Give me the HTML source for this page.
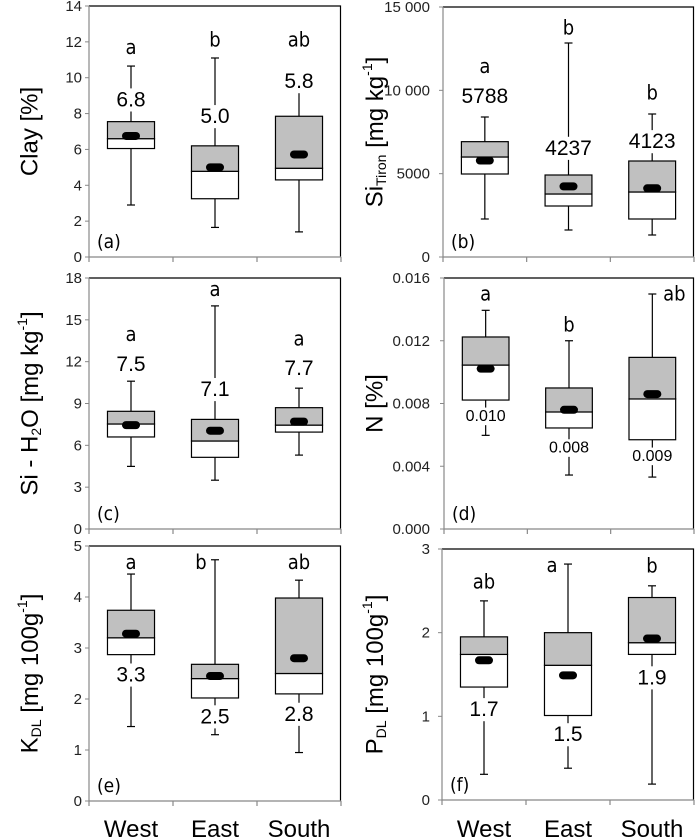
<!DOCTYPE html>
<html><head><meta charset="utf-8"><style>
html,body{margin:0;padding:0;background:#fff;}
svg{display:block;font-family:"Liberation Sans",sans-serif;}
</style></head><body>
<svg id="fig" width="695" height="839" viewBox="0 0 695 839" xmlns="http://www.w3.org/2000/svg"></svg>
<script>
const categories = ["West","East","South"];
// panel a: Clay
const aLo=[2.9,1.65,1.4], aQ1=[6.05,3.25,4.3], aMed=[6.6,4.78,4.95], aQ3=[7.55,6.2,7.85], aHi=[10.65,11.1,9.5], aMean=[6.75,5.0,5.72];
const aLetters=["a","b","ab"], aLetterPos=[11.7,12.14,12.14], aValues=["6.8","5.0","5.8"], aValuePos=[8.76,7.83,9.78];
// panel b: Si Tiron
const bLo=[2280,1620,1320], bQ1=[4980,3060,2280], bMed=[6000,3780,3900], bQ3=[6920,4920,5760], bHi=[8400,12840,8580], bMean=[5788,4237,4123];
const bLetters=["a","b","b"], bLetterPos=[11460,13780,9880], bValues=["5788","4237","4123"], bValuePos=[9620,6520,6920];
// panel c: Si-H2O
const cLo=[4.49,3.5,5.3], cQ1=[6.6,5.14,6.95], cMed=[7.53,6.31,7.45], cQ3=[8.44,7.86,8.7], cHi=[10.6,16.0,10.1], cMean=[7.45,7.05,7.7];
const cLetters=["a","a","a"], cLetterPos=[14.0,17.2,13.65], cValues=["7.5","7.1","7.7"], cValuePos=[11.8,10.0,11.5];
// panel d: N
const dLo=[0.00597,0.00344,0.00331], dQ1=[0.00822,0.00644,0.00569], dMed=[0.01045,0.00746,0.00829], dQ3=[0.01224,0.00899,0.01094], dHi=[0.01394,0.012,0.01498], dMean=[0.01022,0.0076,0.0086];
const dLetters=["a","b","ab"], dLetterPos=[0.015,0.01302,0.015], dValues=["0.010","0.008","0.009"], dValuePos=[0.00718,0.00516,0.00463];
// panel e: K DL
const eLo=[1.46,1.3,0.95], eQ1=[2.87,2.02,2.1], eMed=[3.2,2.4,2.5], eQ3=[3.74,2.68,3.98], eHi=[4.45,4.73,4.33], eMean=[3.28,2.45,2.8];
const eLetters=["a","b","ab"], eLetterPos=[4.69,4.69,4.69], eValues=["3.3","2.5","2.8"], eValuePos=[2.47,1.65,1.7];
// panel f: P DL
const fLo=[0.307,0.38,0.19], fQ1=[1.35,1.01,1.74], fMed=[1.74,1.61,1.88], fQ3=[1.95,2.0,2.42], fHi=[2.38,2.82,2.56], fMean=[1.67,1.49,1.93];
const fLetters=["ab","a","b"], fLetterPos=[2.61,2.81,2.8], fValues=["1.7","1.5","1.9"], fValuePos=[1.08,0.78,1.46];
const aTicks=["0","2","4","6","8","10","12","14"];
const bTicks=["0","5000","10 000","15 000"];
const cTicks=["0","3","6","9","12","15","18"];
const dTicks=["0.000","0.004","0.008","0.012","0.016"];
const eTicks=["0","1","2","3","4","5"];
const fTicks=["0","1","2","3"];

const NS="http://www.w3.org/2000/svg";
const svg=document.getElementById('fig');
function mk(tag,attrs,parent){const e=document.createElementNS(NS,tag);for(const k in attrs)e.setAttribute(k,attrs[k]);(parent||svg).appendChild(e);return e;}

const panels=[
 {id:"a",x0:89,x1:341,yTop:6,yBot:257,max:14,tickVals:[0,2,4,6,8,10,12,14],ticks:aTicks,lo:aLo,q1:aQ1,med:aMed,q3:aQ3,hi:aHi,mean:aMean,letters:aLetters,lp:aLetterPos,values:aValues,vp:aValuePos,title:"Clay [%]",tx:30,ldx:[0,0,0],vfs:21,tickRight:82},
 {id:"b",x0:443,x1:694,yTop:7,yBot:257,max:15000,tickVals:[0,5000,10000,15000],ticks:bTicks,lo:bLo,q1:bQ1,med:bMed,q3:bQ3,hi:bHi,mean:bMean,letters:bLetters,lp:bLetterPos,values:bValues,vp:bValuePos,title:"Si<tspan font-size='14' dy='6'>Tiron</tspan><tspan dy='-6'> [mg kg</tspan><tspan font-size='14' dy='-8'>-1</tspan><tspan dy='8'>]</tspan>",tx:375,ldx:[0,0,0],vfs:21,tickRight:430},
 {id:"c",x0:89,x1:341,yTop:278,yBot:529,max:18,tickVals:[0,3,6,9,12,15,18],ticks:cTicks,lo:cLo,q1:cQ1,med:cMed,q3:cQ3,hi:cHi,mean:cMean,letters:cLetters,lp:cLetterPos,values:cValues,vp:cValuePos,title:"Si - H<tspan font-size='14' dy='6'>2</tspan><tspan dy='-6'>O [mg kg</tspan><tspan font-size='14' dy='-8'>-1</tspan><tspan dy='8'>]</tspan>",tx:30,ldx:[0,0,0],vfs:21,tickRight:82},
 {id:"d",x0:444,x1:694,yTop:278,yBot:529,max:0.016,tickVals:[0,0.004,0.008,0.012,0.016],ticks:dTicks,lo:dLo,q1:dQ1,med:dMed,q3:dQ3,hi:dHi,mean:dMean,letters:dLetters,lp:dLetterPos,values:dValues,vp:dValuePos,title:"N [%]",tx:375,ldx:[0,0,22],vfs:16,tickRight:430},
 {id:"e",x0:89,x1:341,yTop:546,yBot:801,max:5,tickVals:[0,1,2,3,4,5],ticks:eTicks,lo:eLo,q1:eQ1,med:eMed,q3:eQ3,hi:eHi,mean:eMean,letters:eLetters,lp:eLetterPos,values:eValues,vp:eValuePos,title:"K<tspan font-size='14' dy='6'>DL</tspan><tspan dy='-6'> [mg 100g</tspan><tspan font-size='14' dy='-8'>-1</tspan><tspan dy='8'>]</tspan>",tx:30,ldx:[0,-14,0],vfs:21,tickRight:82},
 {id:"f",x0:442,x1:694,yTop:549,yBot:800,max:3,tickVals:[0,1,2,3],ticks:fTicks,lo:fLo,q1:fQ1,med:fMed,q3:fQ3,hi:fHi,mean:fMean,letters:fLetters,lp:fLetterPos,values:fValues,vp:fValuePos,title:"P<tspan font-size='14' dy='6'>DL</tspan><tspan dy='-6'> [mg 100g</tspan><tspan font-size='14' dy='-8'>-1</tspan><tspan dy='8'>]</tspan>",tx:375,ldx:[0,-16,0],vfs:21,tickRight:430}
];

panels.forEach(p=>{
  const g=mk('g',{});
  
  
  const y=v=>p.yBot-(v/p.max)*(p.yBot-p.yTop);
  const bw=(p.x1-p.x0)/categories.length;
  const xc=i=>p.x0+bw*(i+0.5);
  const fr=mk('path',{d:`M${p.x0} ${p.yTop}H${p.x1-0.5}V${p.yBot}`,fill:'none',stroke:'#000','stroke-width':1.2},g);
  
  
  const ax=mk('path',{d:`M${p.x0} ${p.yTop}V${p.yBot}H${p.x1}`,fill:'none',stroke:'#888','stroke-width':1.2},g);
  
  
  for(let i=0;i<=categories.length;i++){
    const tx=p.x0+bw*i;
    mk('line',{x1:tx,x2:tx,y1:p.yBot,y2:p.yBot+5,stroke:'#888','stroke-width':1.2},g);
  }
  p.tickVals.forEach((v,i)=>{
    const yy=y(v);
    mk('line',{x1:p.x0-4,x2:p.x0,y1:yy,y2:yy,stroke:'#888','stroke-width':1},g);
    const t=mk('text',{x:p.tickRight,y:yy+5,'text-anchor':'end','font-size':15,fill:'#222'},g);
    t.textContent=p.ticks[i];
    
    
  });
  const cy=(p.yTop+p.yBot)/2;
  const tt=mk('text',{x:p.tx,y:cy,'text-anchor':'middle','font-size':24,'dominant-baseline':'central',transform:`rotate(-90 ${p.tx} ${cy})`,fill:'#000'},g);
  tt.innerHTML=p.title;
  
  
  const pl=mk('text',{x:p.x0+8,y:p.yBot-9,'font-size':19,fill:'#000','font-family':'"DejaVu Sans Condensed","Liberation Sans",sans-serif'},g);
  pl.textContent='('+p.id+')';
  
  
  categories.forEach((c,i)=>{
    const x=xc(i), w=bw*0.56;
    const bx=mk('g',{},g);
    
    
    mk('line',{x1:x,x2:x,y1:y(p.lo[i]),y2:y(p.q1[i]),stroke:'#000','stroke-width':1.2},bx);
    mk('line',{x1:x,x2:x,y1:y(p.q3[i]),y2:y(p.hi[i]),stroke:'#000','stroke-width':1.2},bx);
    mk('line',{x1:x-4,x2:x+4,y1:y(p.lo[i]),y2:y(p.lo[i]),stroke:'#000','stroke-width':1.2},bx);
    mk('line',{x1:x-4,x2:x+4,y1:y(p.hi[i]),y2:y(p.hi[i]),stroke:'#000','stroke-width':1.2},bx);
    mk('rect',{x:x-w/2,y:y(p.med[i]),width:w,height:y(p.q1[i])-y(p.med[i]),fill:'#fff',stroke:'#000','stroke-width':1.2},bx);
    mk('rect',{x:x-w/2,y:y(p.q3[i]),width:w,height:y(p.med[i])-y(p.q3[i]),fill:'#c0c0c0',stroke:'#000','stroke-width':1.2},bx);
    const m=mk('rect',{x:x-9,y:y(p.mean[i])-4,width:18,height:8,rx:4,fill:'#000'},bx);
    
    
  });
  categories.forEach((c,i)=>{
    const x=xc(i);
    const ly=y(p.lp[i]);
    const lw=p.letters[i].length*11+4;
    mk('rect',{x:x+p.ldx[i]-lw/2,y:ly-10,width:lw,height:20,fill:'#fff'},g);
    const lt=mk('text',{x:x+p.ldx[i],y:ly,'text-anchor':'middle','dominant-baseline':'central','font-size':20,fill:'#000','font-family':'"DejaVu Sans Condensed","Liberation Sans",sans-serif'},g);
    lt.textContent=p.letters[i];
    
    
    const vy=y(p.vp[i]);
    const vw=p.values[i].length*p.vfs*0.56+4;
    mk('rect',{x:x-vw/2,y:vy-p.vfs*0.55,width:vw,height:p.vfs*1.1,fill:'#fff'},g);
    const vt=mk('text',{x:x,y:vy,'text-anchor':'middle','dominant-baseline':'central','font-size':p.vfs,fill:'#000'},g);
    vt.textContent=p.values[i];
    
    
    if(p.id==='e'||p.id==='f'){
      const xl=mk('text',{x:x,y:837,'text-anchor':'middle','font-size':24,fill:'#000'},g);
      xl.textContent=c;
      
      
    }
  });
});
</script>
</body></html>
